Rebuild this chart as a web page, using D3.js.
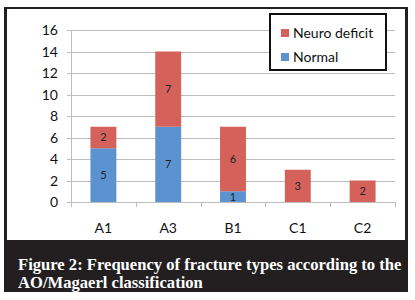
<!DOCTYPE html>
<html>
<head>
<meta charset="utf-8">
<script src="https://cdn.jsdelivr.net/npm/d3@7"></script>
<style>
  html, body { margin: 0; padding: 0; background: #fff; }
  svg { display: block; }
</style>
</head>
<body>
<div id="chart"></div>
<script>
// Fracture types - stacked bars
const categories = ['A1', 'A3', 'B1', 'C1', 'C2'];
const normal = [5, 7, 1, 0, 0];
const neuroDeficit = [2, 7, 6, 3, 2];
const yTicks = [0, 2, 4, 6, 8, 10, 12, 14, 16];
const seriesNames = ['Neuro deficit', 'Normal'];
const captionLines = [
    'Figure 2: Frequency of fracture types according to the',
    'AO/Magaerl classification'
];

const width = 415, height = 300;
const colors = { 'Normal': '#5b93d0', 'Neuro deficit': '#d4625b' };

const svg = d3.select('#chart').append('svg')
    .attr('width', width)
    .attr('height', height);

// frame and caption box
svg.append('rect')
    .attr('x', 4).attr('y', 7)
    .attr('width', 404).attr('height', 285)
    .attr('fill', '#231f20');
svg.append('rect')
    .attr('x', 7).attr('y', 9)
    .attr('width', 398).attr('height', 231)
    .attr('fill', '#fff');

const x = d3.scaleBand()
    .domain(categories)
    .range([71, 395])
    .paddingInner(0.6)
    .paddingOuter(0.3);

const y = d3.scaleLinear()
    .domain([0, 16])
    .range([202, 30]);

// gridlines
svg.append('g')
    .selectAll('line')
    .data(yTicks)
    .join('line')
    .attr('x1', 67)
    .attr('x2', 395)
    .attr('y1', d => Math.round(y(d)) + 0.5)
    .attr('y2', d => Math.round(y(d)) + 0.5)
    .attr('stroke', '#bdbdbd')
    .attr('stroke-width', 1);

// y axis line
svg.append('line')
    .attr('x1', 71.5).attr('x2', 71.5)
    .attr('y1', y(16)).attr('y2', y(0))
    .attr('stroke', '#bdbdbd');

// x axis ticks at category boundaries
const bounds = categories.map(c => x(c) - x.step() * x.paddingInner() / 2);
bounds.push(395);
bounds[0] = 71;
svg.append('g')
    .selectAll('line')
    .data(bounds)
    .join('line')
    .attr('x1', d => Math.round(d) + 0.5)
    .attr('x2', d => Math.round(d) + 0.5)
    .attr('y1', Math.round(y(0)))
    .attr('y2', Math.round(y(0)) + 5)
    .attr('stroke', '#bdbdbd');

// y tick labels
svg.append('g')
    .selectAll('text')
    .data(yTicks)
    .join('text')
    .attr('x', 58)
    .attr('y', d => y(d))
    .attr('dy', '0.36em')
    .attr('text-anchor', 'end')
    .attr('font-family', 'Lato, sans-serif')
    .attr('font-size', 14)
    .attr('fill', '#111')
    .text(d => d);

// x labels
svg.append('g')
    .selectAll('text')
    .data(categories)
    .join('text')
    .attr('x', d => x(d) + x.bandwidth() / 2)
    .attr('y', 233)
    .attr('text-anchor', 'middle')
    .attr('font-family', 'Lato, sans-serif')
    .attr('font-size', 14)
    .attr('fill', '#111')
    .text(d => d);

// stacked data
const rows = categories.map((c, i) => ({ cat: c, 'Normal': normal[i], 'Neuro deficit': neuroDeficit[i] }));
const stack = d3.stack().keys(['Normal', 'Neuro deficit'])(rows);

const layers = svg.append('g')
    .selectAll('g')
    .data(stack)
    .join('g')
    .attr('fill', d => colors[d.key]);

layers.selectAll('rect')
    .data(d => d.filter(s => s[1] - s[0] > 0))
    .join('rect')
    .attr('x', d => x(d.data.cat))
    .attr('y', d => y(d[1]))
    .attr('width', x.bandwidth())
    .attr('height', d => y(d[0]) - y(d[1]));

layers.selectAll('text')
    .data(d => d.filter(s => s[1] - s[0] > 0))
    .join('text')
    .attr('x', d => x(d.data.cat) + x.bandwidth() / 2)
    .attr('y', d => y((d[0] + d[1]) / 2))
    .attr('dy', '0.36em')
    .attr('text-anchor', 'middle')
    .attr('font-family', 'Lato, sans-serif')
    .attr('font-size', 11)
    .attr('fill', '#222')
    .text(d => d[1] - d[0]);

// legend
const legend = svg.append('g');
legend.append('rect')
    .attr('x', 270).attr('y', 14)
    .attr('width', 116).attr('height', 56)
    .attr('fill', '#fff')
    .attr('stroke', '#111')
    .attr('stroke-width', 2);
seriesNames.forEach((name, i) => {
    const ly = 33 + i * 24;
    legend.append('rect')
        .attr('x', 281).attr('y', ly - 4)
        .attr('width', 8).attr('height', 8)
        .attr('fill', colors[name]);
    legend.append('text')
        .attr('x', 293).attr('y', ly)
        .attr('dy', '0.36em')
        .attr('font-family', 'Lato, sans-serif')
        .attr('font-size', 14)
        .attr('fill', '#111')
        .text(name);
});

// caption
svg.append('g')
    .selectAll('text')
    .data(captionLines)
    .join('text')
    .attr('x', 18)
    .attr('y', (d, i) => 270 + i * 18)
    .attr('font-family', '"Liberation Serif", serif')
    .attr('font-weight', 'bold')
    .attr('font-size', 16.6)
    .attr('fill', '#fff')
    .text(d => d);
</script>
</body>
</html>
